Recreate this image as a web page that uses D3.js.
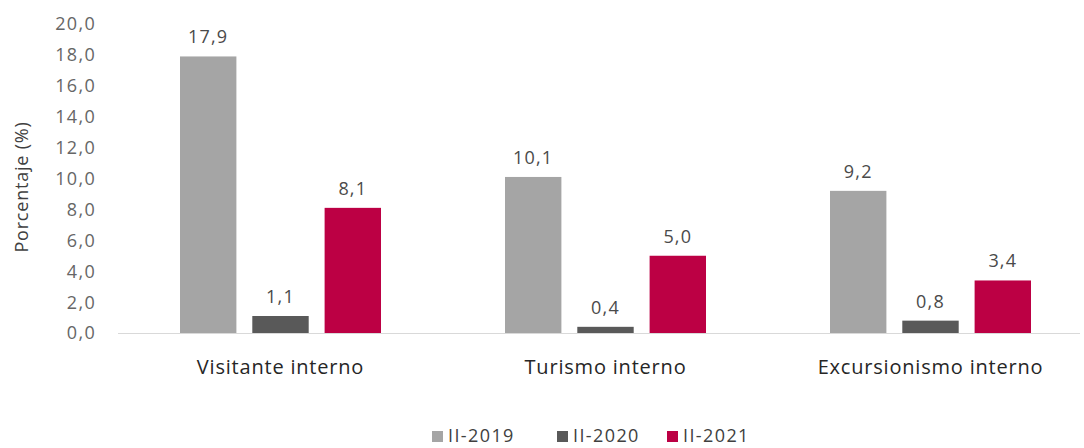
<!DOCTYPE html>
<html>
<head>
<meta charset="utf-8">
<script src="https://cdn.jsdelivr.net/npm/d3@7"></script>
<style>
  body { margin: 0; background: #fff; }
  text { font-family: "Open Sans", "Noto Sans", sans-serif; }
</style>
</head>
<body>
<svg id="chart" width="1084" height="448"></svg>
<script>
var categories = ['Visitante interno', 'Turismo interno', 'Excursionismo interno'];
var series = ['II-2019', 'II-2020', 'II-2021'];
var values2019 = [17.9, 10.1, 9.2];
var values2020 = [1.1, 0.4, 0.8];
var values2021 = [8.1, 5.0, 3.4];
var yTicks = [0, 2, 4, 6, 8, 10, 12, 14, 16, 18, 20];
var colors = ['#a5a5a5', '#595959', '#bc0044'];

var seriesValues = [values2019, values2020, values2021];
var data = categories.map(function(c, i) {
    return { cat: c, vals: series.map(function(s, j) { return { key: s, value: seriesValues[j][i], color: colors[j] }; }) };
});

var svg = d3.select('#chart');
var baseY = 333;

var x = d3.scaleBand().domain(categories).range([118, 1093]).padding(0);
var y = d3.scaleLinear().domain([0, 20]).range([baseY, 24]);
var xIn = d3.scaleBand().domain(series).range([-100.5, 100.5]).paddingInner(0.22);

var fmt = function(v) { return d3.format('.1f')(v).replace('.', ','); };

// y axis labels
svg.append('g').selectAll('text').data(yTicks).enter().append('text')
    .attr('x', 96).attr('y', function(d) { return y(d); })
    .attr('dy', '0.36em')
    .attr('text-anchor', 'end')
    .style('font-size', '18px')
    .style('letter-spacing', '1.3px')
    .style('fill', '#666')
    .text(fmt);

svg.append('text')
    .attr('transform', 'translate(28,187) rotate(-90)')
    .attr('text-anchor', 'middle')
    .style('font-size', '18px')
    .style('letter-spacing', '0.8px')
    .style('fill', '#404040')
    .text('Porcentaje (%)');

// baseline
svg.append('line')
    .attr('x1', 118).attr('x2', 1080)
    .attr('y1', baseY + 0.5).attr('y2', baseY + 0.5)
    .style('stroke', '#d9d9d9').style('stroke-width', 1);

var groups = svg.append('g').selectAll('g').data(data).enter().append('g')
    .attr('transform', function(d) { return 'translate(' + (x(d.cat) + x.bandwidth() / 2) + ',0)'; });

groups.selectAll('rect').data(function(d) { return d.vals; }).enter().append('rect')
    .attr('x', function(d) { return xIn(d.key); })
    .attr('width', xIn.bandwidth())
    .attr('y', function(d) { return y(d.value); })
    .attr('height', function(d) { return baseY - y(d.value); })
    .style('fill', function(d) { return d.color; });

groups.selectAll('text.val').data(function(d) { return d.vals; }).enter().append('text')
    .attr('class', 'val')
    .attr('x', function(d) { return xIn(d.key) + xIn.bandwidth() / 2; })
    .attr('y', function(d) { return y(d.value) - 13; })
    .attr('text-anchor', 'middle')
    .style('font-size', '18px')
    .style('letter-spacing', '1.2px')
    .style('fill', '#4a4a4a')
    .text(function(d) { return fmt(d.value); });

groups.append('text')
    .attr('x', 0).attr('y', 374)
    .attr('text-anchor', 'middle')
    .style('font-size', '20px')
    .style('letter-spacing', '0.8px')
    .style('fill', '#262626')
    .text(function(d) { return d.cat; });

// legend
var legendX = [432, 557, 667];
var legend = svg.append('g').selectAll('g').data(series).enter().append('g')
    .attr('transform', function(d, i) { return 'translate(' + legendX[i] + ',442)'; });
legend.append('rect')
    .attr('x', 0).attr('y', -11).attr('width', 11).attr('height', 11)
    .style('fill', function(d, i) { return colors[i]; });
legend.append('text')
    .attr('x', 16).attr('y', 0)
    .style('font-size', '18px')
    .style('letter-spacing', '1.4px')
    .style('fill', '#404040')
    .text(function(d) { return d; });
</script>
</body>
</html>
